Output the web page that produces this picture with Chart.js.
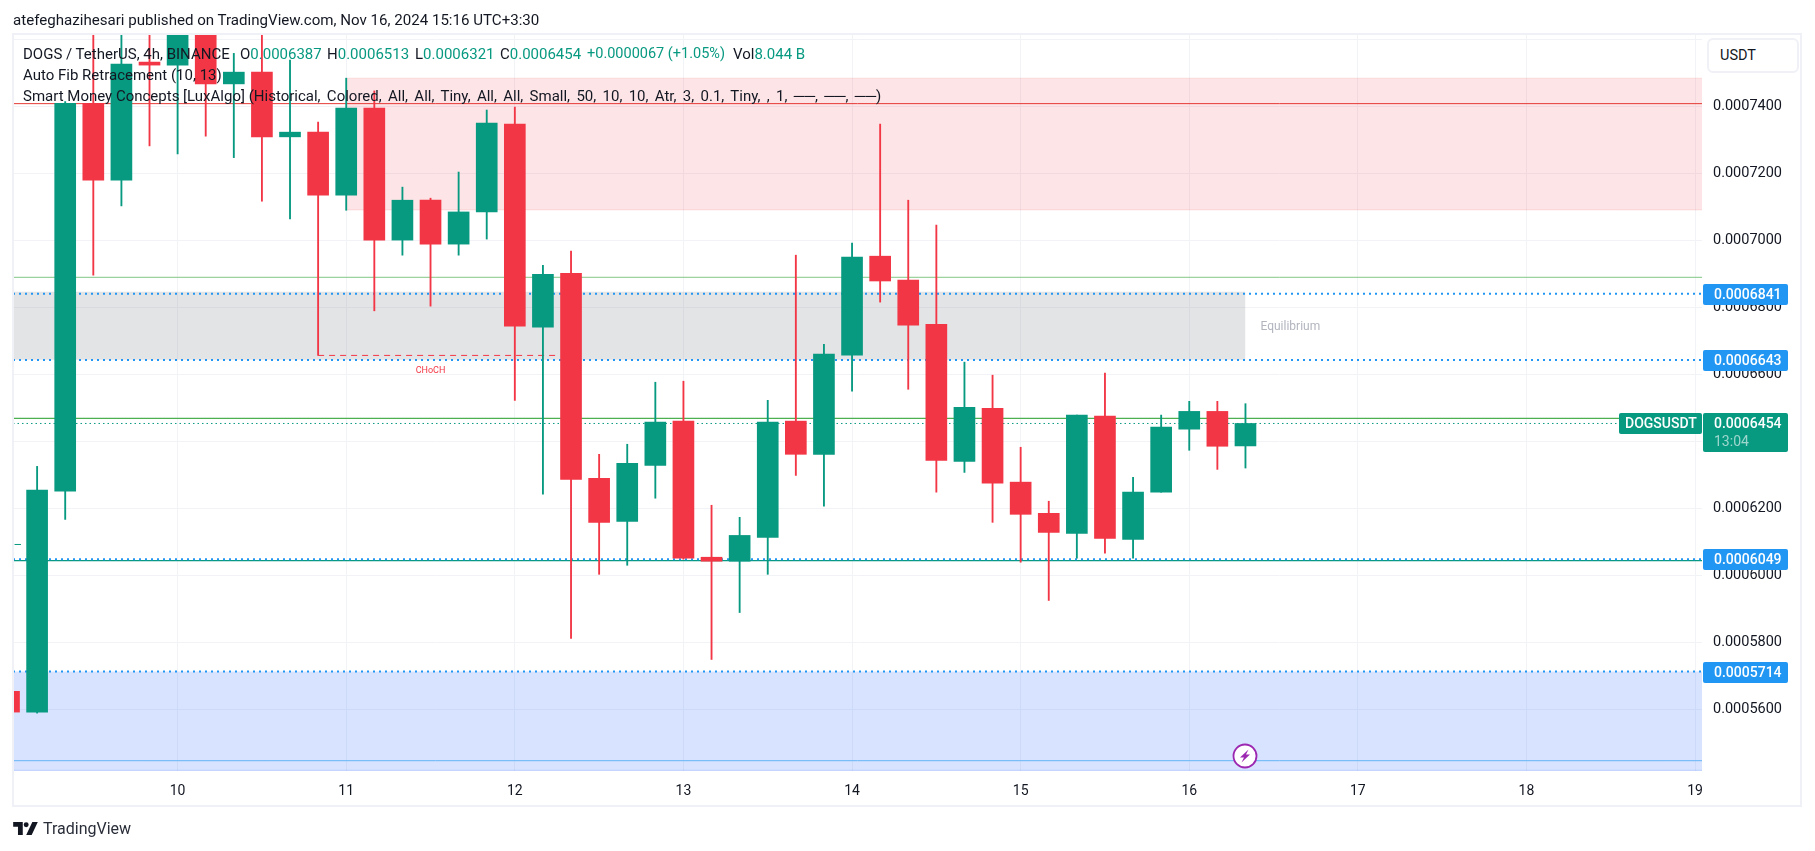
<!DOCTYPE html>
<html><head><meta charset="utf-8">
<style>
html,body{margin:0;padding:0;background:#fff;width:1815px;height:851px;overflow:hidden}
#wrap{position:relative;width:1815px;height:851px;font-family:Roboto,sans-serif}
canvas{position:absolute;left:0;top:0}
#frame{position:absolute;left:12px;top:33px;width:1786px;height:770px;border:2px solid #f0f1f7;pointer-events:none}
.t{position:absolute;white-space:nowrap;color:#131722;font-size:15px;line-height:20px}
.v{color:#089981}
#usdt{position:absolute;left:1707px;top:38px;width:88px;height:31px;border:2px solid #f0f1f7;border-radius:6px;background:#fff;font-size:14.5px;line-height:31px;color:#131722;text-indent:11px}
#bolt{position:absolute;left:1232px;top:743px}
#logo{position:absolute;left:13px;top:822px}
</style></head><body>
<div id="wrap">
<canvas id="c" width="1815" height="851" style="width:1815px;height:851px"></canvas>
<div id="frame"></div>
<div class="t" style="left:13px;top:10px;font-size:15.1px">atefeghazihesari published on TradingView.com, Nov 16, 2024 15:16 UTC+3:30</div>
<div class="t" style="left:23px;top:44px">DOGS / TetherUS, 4h, BINANCE</div>
<div class="t" style="left:240px;top:44px">O<span class="v">0.0006387</span></div>
<div class="t" style="left:327px;top:44px">H<span class="v">0.0006513</span></div>
<div class="t" style="left:415px;top:44px">L<span class="v">0.0006321</span></div>
<div class="t" style="left:500px;top:44px">C<span class="v">0.0006454</span></div>
<div class="t v" style="left:587px;top:44px;font-size:14.5px">+0.0000067 (+1.05%)</div>
<div class="t" style="left:733px;top:44px">Vol<span class="v">8.044 B</span></div>
<div class="t" style="left:23px;top:65px">Auto Fib Retracement (10, 13)</div>
<div class="t" style="left:23px;top:86px">Smart Money Concepts [LuxAlgo] <span style="word-spacing:2.6px">(Historical, Colored, All, All, Tiny, All, All, Small, 50, 10, 10, Atr, 3, 0.1, Tiny, , 1, ──, ──, ──)</span></div>
<div id="usdt">USDT</div>
<svg id="bolt" width="26" height="26" viewBox="0 0 26 26"><circle cx="13" cy="13" r="11.5" fill="#fff" stroke="#9c27b0" stroke-width="1.8"/><path d="M16.5 6.5 L8 14.5 H12 L9.5 19.5 L18 11.5 H14 Z" fill="#9c27b0"/></svg>
<svg id="logo" width="25" height="13" viewBox="0 0 36 19"><path d="M0 0H14V19H7V7H0Z M28 0H36L27 19H19Z" fill="#131722"/><circle cx="19" cy="4" r="3.6" fill="#131722"/></svg>
<div class="t" style="left:43px;top:819px;font-size:16px;line-height:20px;color:#2a2e39">TradingView</div>
</div>
<script src="https://cdn.jsdelivr.net/npm/chart.js@4"></script>
<script>
// Candle positions, in days of November 2024 (one candle every 4 hours)
const candleSlots = [-6,-5,-4,-3,-2,-1,0,1,2,3,4,5,6,7,8,9,10,11,12,13,14,15,16,17,18,19,20,21,22,23,24,25,26,27,28,29,30,31,32,33,34,35,36,37,38];
const opens  = [0.0005655,0.0005593,0.0006252,0.0007409,0.0007180,0.0007532,0.0007523,0.0007660,0.0007467,0.0007502,0.0007309,0.0007323,0.0007135,0.0007395,0.0007001,0.0007120,0.0006989,0.0007085,0.0007347,0.0006741,0.0006902,0.0006290,0.0006162,0.0006329,0.0006461,0.0006055,0.0006043,0.0006114,0.0006461,0.0006362,0.0006658,0.0006953,0.0006882,0.0006750,0.0006341,0.0006499,0.0006279,0.0006186,0.0006126,0.0006476,0.0006108,0.0006249,0.0006437,0.0006490,0.0006387];
const closes = [0.0005593,0.0006255,0.0007409,0.0007180,0.0007526,0.0007523,0.0007660,0.0007467,0.0007502,0.0007309,0.0007323,0.0007135,0.0007395,0.0007001,0.0007120,0.0006989,0.0007085,0.0007350,0.0006744,0.0006899,0.0006287,0.0006159,0.0006335,0.0006458,0.0006052,0.0006043,0.0006120,0.0006458,0.0006362,0.0006661,0.0006950,0.0006879,0.0006747,0.0006344,0.0006502,0.0006276,0.0006183,0.0006129,0.0006479,0.0006111,0.0006249,0.0006443,0.0006490,0.0006386,0.0006454];
const highs  = [0.0005655,0.0006326,0.0007414,0.0007658,0.0007650,0.0007680,0.0007720,0.0007720,0.0007558,0.0007650,0.0007538,0.0007353,0.0007484,0.0007446,0.0007159,0.0007126,0.0007204,0.0007389,0.0007398,0.0006926,0.0006968,0.0006362,0.0006392,0.0006577,0.0006580,0.0006210,0.0006174,0.0006523,0.0006956,0.0006690,0.0006992,0.0007347,0.0007120,0.0007046,0.0006637,0.0006598,0.0006383,0.0006222,0.0006479,0.0006604,0.0006293,0.0006479,0.0006520,0.0006520,0.0006513];
const lows   = [0.0005593,0.0005590,0.0006168,0.0006896,0.0007103,0.0007282,0.0007258,0.0007311,0.0007247,0.0007117,0.0007064,0.0006657,0.0007090,0.0006790,0.0006956,0.0006804,0.0006956,0.0007004,0.0006523,0.0006243,0.0005813,0.0006004,0.0006031,0.0006231,0.0006049,0.0005750,0.0005890,0.0006004,0.0006299,0.0006207,0.0006550,0.0006816,0.0006556,0.0006249,0.0006308,0.0006159,0.0006040,0.0005926,0.0006052,0.0006067,0.0006052,0.0006249,0.0006374,0.0006317,0.0006321];
const dayTicks = [10,11,12,13,14,15,16,17,18,19];
const priceTicks = [0.00056,0.00058,0.00060,0.00062,0.00064,0.00066,0.00068,0.00070,0.00072,0.00074,0.00076];
const hiddenPriceLabels = [0.00076];
const blueLevels = [0.0006841,0.0006643,0.0006049,0.0005714];
const lastPrice = 0.0006454;
const countdown = "13:04";
const symbolTag = "DOGSUSDT";
const redLevel = 0.0007408, greenLight = 0.0006890, greenLevel = 0.0006469, tealLevel = 0.0006045, skyLevel = 0.0005448, tealStub = 0.0006093;
const chochLevel = 0.0006657, chochLabel = "CHoCH", eqLabel = "Equilibrium";
const premiumZone = [0.0007484,0.0007091];
const equilibriumZone = [0.0006847,0.0006644];
const discountZone = [0.0005714,0.0005419];

const UP='#089981', DOWN='#f23645';
const slotToDay = s => 10 + s/6;
const X0 = 9.0237, X1 = 19.041, Y0 = 0.00054173, Y1 = 0.00076128;
const colors = opens.map((o,i)=> closes[i]>=o ? UP : DOWN);

function hline(label,x0,x1,y,color,width,dash,order,fill,bg){
  return {type:'line',label,data:[{x:x0,y},{x:x1,y}],borderColor:color,borderWidth:width,borderDash:dash||[],pointRadius:0,order,fill:fill||false,backgroundColor:bg||'transparent'};
}
const lastDay = slotToDay(38);
const datasets = [
  hline('premium',slotToDay(6),X1,premiumZone[0],'rgba(242,54,69,.12)',1,[],30,{value:premiumZone[1]},'rgba(242,54,69,.135)'),
  hline('premium bottom',slotToDay(6),X1,premiumZone[1],'rgba(242,54,69,.12)',1,[],29),
  hline('equilibrium',X0,lastDay,equilibriumZone[0],'rgba(0,0,0,0)',0,[],30,{value:equilibriumZone[1]},'rgba(120,123,134,.205)'),
  hline('discount',X0,X1,discountZone[0],'rgba(0,0,0,0)',0,[],30,{value:discountZone[1]},'rgba(41,98,255,.18)'),
  hline('discount bottom',X0,X1,discountZone[1],'rgba(41,98,255,.2)',1.5,[],29),
  hline('red',X0,X1,redLevel,'#e53935',1,[],20),
  hline('green light',X0,X1,greenLight,'#81c784',1,[],20),
  hline('green',X0,X1,greenLevel,'#4caf50',1.3,[],20),
  hline('teal',X0,X1,tealLevel,'#089981',1.4,[],20),
  hline('sky',X0,X1,skyLevel,'#64b5f6',1,[],20),
  hline('choch',slotToDay(5),slotToDay(14)-0.08,chochLevel,DOWN,1,[6,5],19),
  hline('stub',9.033,9.071,tealStub,'#089981',1,[],19),
  hline('last',X0,X1,lastPrice,'#089981',1,[1.5,3],18),
  ...blueLevels.map(v=>hline('level',X0,X1,v,'#2196f3',2,[2,4],17)),
  {type:'bar',label:'wicks',data:candleSlots.map((s,i)=>({x:slotToDay(s),y:[lows[i],highs[i]]})),backgroundColor:colors,barThickness:1.2,grouped:false,order:5},
  {type:'bar',label:'bodies',data:candleSlots.map((s,i)=>({x:slotToDay(s),y:[opens[i],closes[i]]})),backgroundColor:colors,barThickness:21,grouped:false,order:4}
];

const overlay = {
  id:'overlay',
  afterDraw(chart){
    const {ctx,scales:{y,x}} = chart;
    const F='14px Roboto, sans-serif';
    ctx.save();
    ctx.textBaseline='middle';
    blueLevels.forEach(v=>{
      const p=y.getPixelForValue(v);
      ctx.fillStyle='#2196f3'; ctx.beginPath(); ctx.roundRect(1703,Math.round(p)-10,85,21,2); ctx.fill();
      ctx.fillStyle='#fff'; ctx.font='500 14px Roboto, sans-serif'; ctx.textAlign='left';
      ctx.fillText(v.toFixed(7),1714,Math.round(p)+1);
    });
    const p=Math.round(y.getPixelForValue(lastPrice));
    ctx.fillStyle=UP;
    ctx.beginPath(); ctx.roundRect(1703,p-10,85,39,2); ctx.fill();
    ctx.beginPath(); ctx.roundRect(1619,p-10,83,21,2); ctx.fill();
    ctx.fillStyle='#fff'; ctx.font='500 14px Roboto, sans-serif'; ctx.textAlign='left';
    ctx.fillText(lastPrice.toFixed(7),1714,p+1);
    ctx.fillText(symbolTag,1625,p+1);
    ctx.fillStyle='rgba(255,255,255,.6)'; ctx.font=F;
    ctx.fillText(countdown,1714,p+19);
    // zone captions
    ctx.font='12px Roboto, sans-serif'; ctx.fillStyle='#b2b5be';
    ctx.fillText(eqLabel,x.getPixelForValue(lastDay)+15,y.getPixelForValue((equilibriumZone[0]+equilibriumZone[1])/2)+1);
    ctx.font='9px Roboto, sans-serif'; ctx.fillStyle=DOWN; ctx.textAlign='center';
    ctx.fillText(chochLabel,x.getPixelForValue(slotToDay(9)),y.getPixelForValue(chochLevel)+15);
    ctx.restore();
  }
};

new Chart(document.getElementById('c'),{
  type:'bar',
  data:{datasets},
  plugins:[overlay],
  options:{
    responsive:false,animation:false,devicePixelRatio:1,
    layout:{padding:{left:13,right:13,top:35,bottom:44}},
    plugins:{legend:{display:false},tooltip:{enabled:false}},
    scales:{
      x:{type:'linear',min:X0,max:X1,offset:false,
        afterBuildTicks:s=>{s.ticks=dayTicks.map(v=>({value:v}))},
        afterFit:s=>{s.height=36},
        grid:{color:'#f2f3f7',lineWidth:1,drawTicks:false,offset:false},
        border:{display:false},
        ticks:{color:'#131722',font:{family:'Roboto',size:14},padding:12,maxRotation:0,autoSkip:false,callback:v=>String(v)}},
      y:{type:'linear',position:'right',min:Y0,max:Y1,
        afterBuildTicks:s=>{s.ticks=priceTicks.map(v=>({value:v}))},
        afterFit:s=>{s.width=100},
        grid:{color:'#f2f3f7',lineWidth:1,drawTicks:false},
        border:{display:false},
        ticks:{color:'#131722',font:{family:'Roboto',size:14.5},padding:11,autoSkip:false,callback:v=>hiddenPriceLabels.some(h=>Math.abs(h-v)<1e-9)?'':v.toFixed(7)}}
    }
  }
});
</script>
</body></html>
